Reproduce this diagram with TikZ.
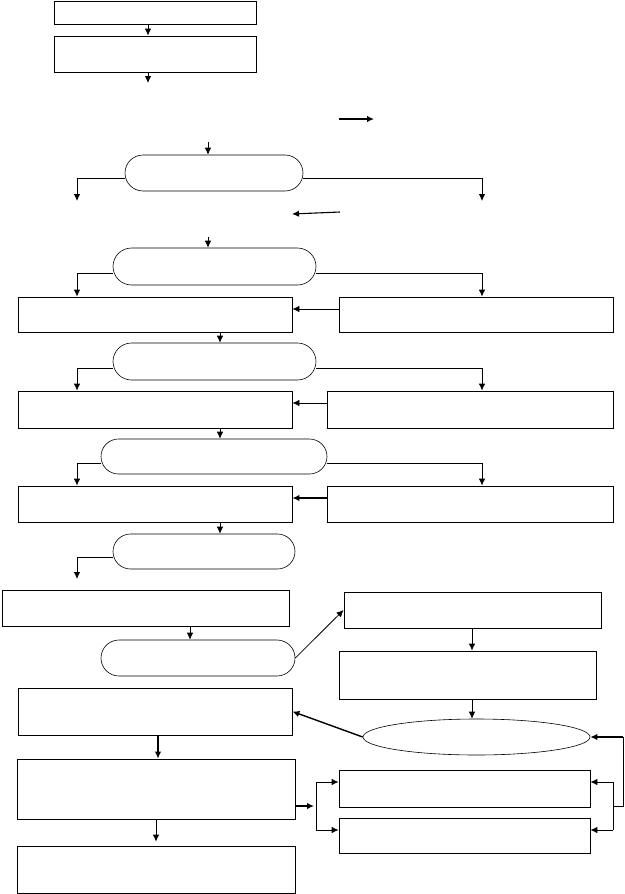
\documentclass[tikz,border=0pt]{standalone}
\usepackage{tikz}
\usetikzlibrary{arrows,arrows.meta}
\usetikzlibrary{shapes,shapes.misc,shapes.geometric}
\usetikzlibrary{calc}
\tikzstyle{box}=[rectangle,draw,line width=0.8pt,inner sep=0pt]
\tikzstyle{pill}=[rounded rectangle,draw,line width=0.6pt,inner sep=0pt]
\tikzstyle{oval}=[ellipse,draw,line width=0.6pt,inner sep=0pt]
\tikzstyle{edge} = [draw,line width=0.8pt,-{Latex[length=7pt,width=6.5pt]}]
\tikzstyle{thick edge} = [draw,line width=2pt,-{Latex[length=7pt,width=6.5pt]}]
\tikzstyle{plain edge} = [draw,line width=0.8pt]

\begin{document}
\begin{tikzpicture}[x=1pt,y=-1pt]
    \useasboundingbox (0,0) rectangle (624,894);

    % boxes
    \foreach \pos/\name/\w/\h in {{(155,12.5)/b1/202/23}, {(155,54)/b2/202/36},
        {(155,314.5)/L1/274/35}, {(476,314.5)/R1/274/35},
        {(155,409.5)/L2/274/37}, {(470,409.5)/R2/286/37},
        {(155,504)/L3/274/36}, {(470,504)/R3/286/36},
        {(145.5,608)/L4/287/36}, {(472.5,610)/R4/257/36}, {(467.5,675)/R5/257/48},
        {(155,711.5)/L5/274/47}, {(156,789)/L6/278/60}, {(156,869.5)/L7/278/47},
        {(464.5,788.5)/R6/251/37}, {(464.5,835.5)/R7/251/35}}
        \node[box,minimum width=\w pt,minimum height=\h pt] (\name) at \pos {};

    % decisions
    \foreach \pos/\name/\w/\h in {{(214,173)/e1/178/36}, {(214.5,266.5)/e2/203/37},
        {(214.5,361.5)/e3/203/37}, {(214,456.5)/e4/226/35},
        {(204,551.5)/e5/182/35}, {(198,658)/e6/194/36}}
        \node[pill,minimum width=\w pt,minimum height=\h pt] (\name) at \pos {};
    \node[oval,minimum width=227pt,minimum height=36pt] (e7) at (476.5,737) {};

    % loose ends
    \coordinate (c1) at (148,83);
    \coordinate (c2) at (208,142);
    \coordinate (c3) at (77,201);
    \coordinate (c4) at (482,201);
    \coordinate (c5) at (208,237);
    \coordinate (c6) at (77,579);
    \coordinate (f1a) at (339,119);
    \coordinate (f1b) at (374,119);
    \coordinate (f2a) at (340,212);
    \coordinate (f2b) at (292,214);
    \coordinate (br1) at (316,782);
    \coordinate (br2) at (316,830);
    \coordinate (br3) at (314,806);
    \coordinate (bb1) at (613,782);
    \coordinate (bb2) at (613,830);
    \coordinate (bb3) at (613,806);
    \coordinate (lp) at (623,737);

    % top part
    \path[edge] ([xshift=-7pt]b1.south) -- ([xshift=-7pt]b2.north);
    \path[edge] ([xshift=-7pt]b2.south) -- (c1);
    \path[thick edge,line width=1.4pt] (f1a) -- (f1b);
    \path[edge] (c2) -- (c2 |- e1.north);
    \path[edge] ([yshift=-5pt]e1.west) -| (c3);
    \path[edge] ([yshift=-5pt]e1.east) -| (c4);
    \path[edge,line width=1.1pt] (f2a) -- (f2b);
    \path[edge] (c5) -- (c5 |- e2.north);

    % three decision rows
    \foreach \e/\l/\r/\dx in {e2/L1/R1/6, e3/L2/R2/12, e4/L3/R3/12}
        {
        \path[edge] ([yshift=-6.5pt]\e.west) -| ([xshift=-78pt]\l.north);
        \path[edge] ([yshift=-6.5pt]\e.east) -| ([xshift=\dx pt]\r.north);
        }
    \path[edge] ([yshift=5.5pt]R1.west) -- ([yshift=5.5pt]L1.east);
    \path[edge] ([yshift=6.5pt]R2.west) -- ([yshift=6.5pt]L2.east);
    \path[thick edge,line width=1.6pt] ([yshift=6pt]R3.west) -- ([yshift=6pt]L3.east);
    \path[edge] ([xshift=65pt]L1.south) -- ([xshift=5.5pt]e3.north);
    \path[edge] ([xshift=65pt]L2.south) -- ([xshift=6pt]e4.north);
    \path[edge] ([xshift=65pt]L3.south) -- ([xshift=16pt]e5.north);

    % lower part
    \path[edge] ([yshift=-5.5pt]e5.west) -| (c6);
    \path[edge] ([xshift=44.5pt]L4.south) -- ([xshift=-8pt]e6.north);
    \path[edge] (e6.east) -- (R4.west);
    \path[edge] ([xshift=-0.5pt]R4.south) -- ([xshift=4.5pt]R5.north);
    \path[edge] ([xshift=4.5pt]R5.south) -- ([xshift=-4.5pt]e7.north);
    \path[thick edge,line width=1.4pt] (e7.west) -- (L5.east);
    \path[thick edge,line width=1.6pt] ([xshift=3pt]L5.south) -- ([xshift=2pt]L6.north);
    \path[edge] (L6.south) -- ([yshift=4pt]L7.north);
    \path[thick edge,line width=1.6pt] ([yshift=-17pt]L6.east) -- (br3);
    \path[plain edge] (br1) -- (br2);
    \path[edge] (br1) -- (br1 -| R6.west);
    \path[edge] (br2) -- (br2 -| R7.west);
    \path[plain edge] (bb1) -- (bb2);
    \path[edge] (bb1) -- (bb1 -| R6.east);
    \path[edge] (bb2) -- (bb2 -| R7.east);
    \path[plain edge] (bb3) -| (lp);
    \path[thick edge,line width=1.6pt] (lp) -- (e7.east);

\end{tikzpicture}
\end{document}
